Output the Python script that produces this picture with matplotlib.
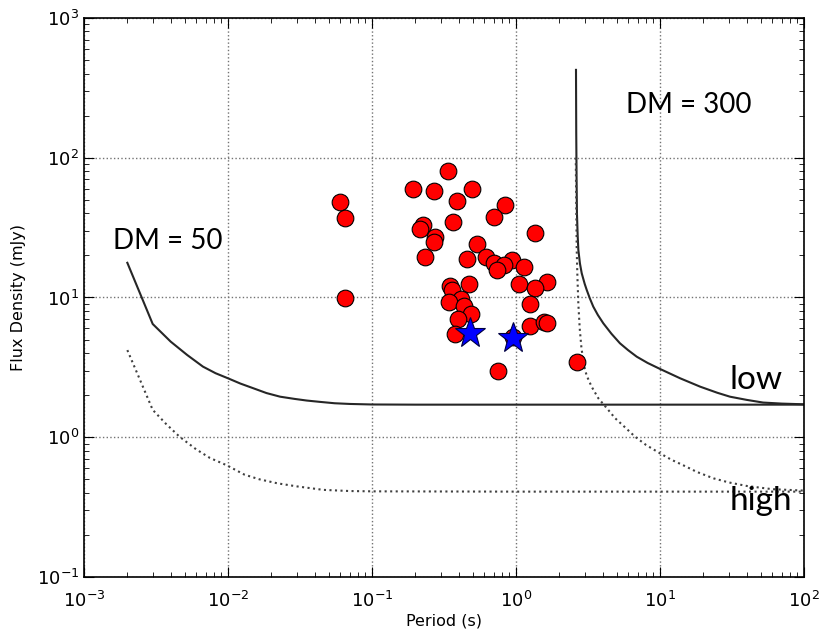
import matplotlib.pyplot as plt

# pulsar detections (period s, flux density mJy)
psr_period = [0.339, 0.194, 0.271, 0.492, 0.387, 0.0603, 0.0653, 0.843, 0.700, 0.365,
              0.227, 0.215, 1.36, 0.275, 0.271, 0.234, 0.538, 0.457, 0.615, 0.703,
              0.942, 0.830, 0.735, 1.14, 0.474, 0.350, 0.361, 1.05, 1.65, 1.36,
              0.417, 0.344, 0.433, 1.26, 0.484, 0.394, 0.379, 1.26, 1.57, 1.65,
              0.754, 2.65, 0.0649, 0.96]
psr_flux = [80.8, 59.7, 57.5, 59.7, 49.3, 48.5, 36.9, 45.7, 37.5, 34.5,
            33.0, 30.9, 28.9, 27.0, 25.0, 19.6, 24.2, 18.8, 19.4, 17.6,
            18.5, 17.1, 15.6, 16.5, 12.5, 12.1, 11.3, 12.4, 12.8, 11.6,
            9.75, 9.24, 8.73, 9.03, 7.58, 7.02, 5.45, 6.25, 6.71, 6.53,
            2.98, 3.45, 9.92, 5.2]

star_period = [0.482, 0.957]
star_flux = [5.6, 5.15]

# sensitivity curves
low50_p = [0.002, 0.003, 0.004, 0.0052, 0.0067, 0.0082, 0.010, 0.0122, 0.015, 0.0185,
           0.023, 0.029, 0.0352, 0.0435, 0.055, 0.070, 0.10, 0.20, 1.0, 100.0]
low50_s = [17.7, 6.46, 4.83, 3.88, 3.20, 2.87, 2.64, 2.42, 2.24, 2.07,
           1.95, 1.88, 1.83, 1.79, 1.75, 1.73, 1.715, 1.71, 1.71, 1.71]

high50_p = [0.002, 0.00245, 0.003, 0.0037, 0.0046, 0.006, 0.0075, 0.0098, 0.013, 0.0165,
            0.022, 0.030, 0.046, 0.070, 0.10, 1.0, 10.0, 100.0]
high50_s = [4.2, 2.57, 1.57, 1.25, 1.01, 0.82, 0.71, 0.63, 0.54, 0.50,
            0.468, 0.445, 0.42, 0.412, 0.41, 0.408, 0.408, 0.408]

low300_p = [2.61, 2.62, 2.635, 2.65, 2.68, 2.71, 2.78, 2.86, 3.0, 3.10,
            3.25, 3.44, 3.7, 4.04, 4.6, 5.27, 6.0, 6.89, 8.2, 10.0,
            13.8, 19.0, 25.0, 30.6, 40.0, 52.0, 70.0, 100.0]
low300_s = [425, 150, 70, 40, 28, 21.9, 17.5, 14.9, 12.5, 11.3,
            9.9, 8.6, 7.5, 6.53, 5.5, 4.70, 4.2, 3.77, 3.4, 3.08,
            2.64, 2.3, 2.08, 1.95, 1.85, 1.77, 1.74, 1.72]

high300_p = [2.60, 2.64, 2.67, 2.71, 2.77, 2.85, 3.0, 3.10, 3.35, 3.73,
             4.3, 4.87, 5.7, 6.7, 8.0, 10.0, 12.0, 14.5, 18.0, 23.5,
             30.0, 40.0, 60.0, 100.0]
high300_s = [100, 22, 14, 9.0, 6.0, 4.3, 3.1, 2.75, 2.3, 1.90,
             1.6, 1.37, 1.18, 1.01, 0.88, 0.767, 0.69, 0.63, 0.565, 0.508,
             0.475, 0.448, 0.425, 0.415]

fig = plt.figure(figsize=(8.21, 6.36), dpi=100)
ax = fig.add_axes([0.1023, 0.0928, 0.877, 0.879])

ax.plot(low50_p, low50_s, color="0.15", lw=1.5)
ax.plot(high50_p, high50_s, color="0.25", lw=1.5, ls=":")
ax.plot(low300_p, low300_s, color="0.15", lw=1.5)
ax.plot(high300_p, high300_s, color="0.25", lw=1.5, ls=":")

ax.plot(psr_period, psr_flux, "o", color="red", mec="black", mew=0.8, ms=12, ls="none")
ax.plot(star_period, star_flux, "*", color="blue", mec="#000040", mew=0.8, ms=23, ls="none")

ax.set_xscale("log")
ax.set_yscale("log")
ax.set_xlim(1e-3, 1e2)
ax.set_ylim(1e-1, 1e3)

ax.grid(True, which="major", color="0.45", ls=":", lw=1)
ax.tick_params(which="both", direction="in", top=True, right=True, labelsize=13)
ax.tick_params(which="major", length=7)
ax.tick_params(which="minor", length=3.5)
ax.tick_params(axis="x", which="major", pad=10)
for s in ax.spines.values():
    s.set_linewidth(1.2)

ax.set_xlabel("Period (s)", fontsize=11.5, labelpad=2)
ax.set_ylabel("Flux Density (mJy)", fontsize=11.5, labelpad=8)

txt_font = ["Lato", "DejaVu Sans"]
ax.text(0.00158, 22.1, "DM = 50", fontsize=20, family=txt_font, va="baseline")
ax.text(5.81, 208, "DM = 300", fontsize=20, family=txt_font, va="baseline")
ax.text(30.6, 2.21, "low", fontsize=24, family=txt_font, va="baseline")
ax.text(30.6, 0.302, "high", fontsize=24, family=txt_font, va="baseline")

fig.savefig("out.png", dpi=100)
